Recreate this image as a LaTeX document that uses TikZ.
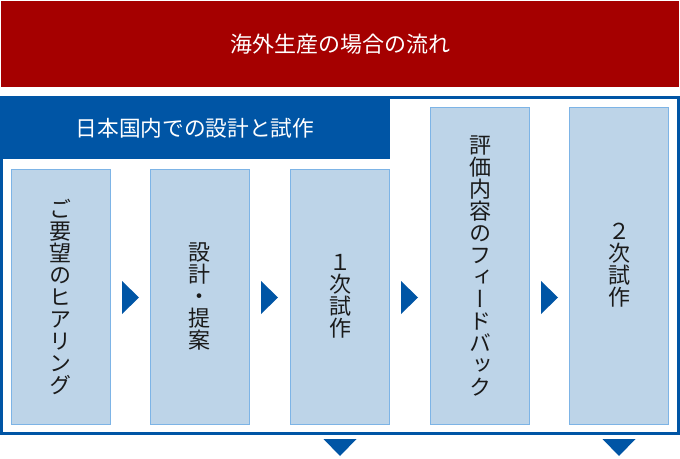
\documentclass[tikz,border=0pt]{standalone}
\usepackage{fontspec}
\setmainfont{Noto Sans CJK JP}
\newfontfamily\jpv[RawFeature=+vert]{Noto Sans CJK JP}
\definecolor{redc}{HTML}{A50000}
\definecolor{bluec}{HTML}{0055A5}
\definecolor{boxfill}{HTML}{BDD4E8}
\definecolor{boxline}{HTML}{7DB4E6}
\definecolor{txt}{HTML}{1A1A1A}
\begin{document}
\begin{tikzpicture}[x=1pt,y=-1pt,
  stepbox/.style={draw=boxline,fill=boxfill,line width=1pt,minimum width=99pt,inner sep=0pt,
    align=center,text=txt,font=\jpv\fontsize{22}{22}\selectfont},
  arrowfill/.style={fill=bluec}]
\useasboundingbox (0,0) rectangle (680,458);
% title banner
\node[fill=redc,minimum width=678pt,minimum height=86pt,inner sep=0pt,text=white,
  font=\fontsize{22}{24}\selectfont] (title) at (340,44) {海外生産の場合の流れ};
% frame
\draw[bluec,line width=3pt] (1.5,97.5) rectangle (678.5,433.5);
\node[fill=bluec,minimum width=390pt,minimum height=62pt,inner sep=0pt,text=white,
  font=\fontsize{21.7}{24}\selectfont] (tab) at (195,128) {日本国内での設計と試作};
% boxes
\node[stepbox,minimum height=255pt] (b1) at (60.5,296.5) {ご\\要\\望\\の\\ヒ\\ア\\リ\\ン\\グ};
\node[stepbox,minimum height=255pt] (b2) at (199.5,296.5) {設\\計\\・\\提\\案};
\node[stepbox,minimum height=255pt] (b3) at (340,296.5) {１\\次\\試\\作};
\node[stepbox,minimum height=317pt] (b4) at (480,265.5) {評\\価\\内\\容\\の\\フ\\ィ\\ー\\ド\\バ\\ッ\\ク};
\node[stepbox,minimum height=317pt] (b5) at (619,265.5) {２\\次\\試\\作};
% right-pointing arrows
\fill[arrowfill] (122,281) -- (139,297.5) -- (122,314) -- cycle;
\fill[arrowfill] (261,281) -- (278,297.5) -- (261,314) -- cycle;
\fill[arrowfill] (401,281) -- (418,297.5) -- (401,314) -- cycle;
\fill[arrowfill] (541,281) -- (558,297.5) -- (541,314) -- cycle;
% down arrows
\fill[arrowfill] (323.5,439) -- (356.5,439) -- (340,456) -- cycle;
\fill[arrowfill] (602.5,439) -- (635.5,439) -- (619,456) -- cycle;
\end{tikzpicture}
\end{document}
